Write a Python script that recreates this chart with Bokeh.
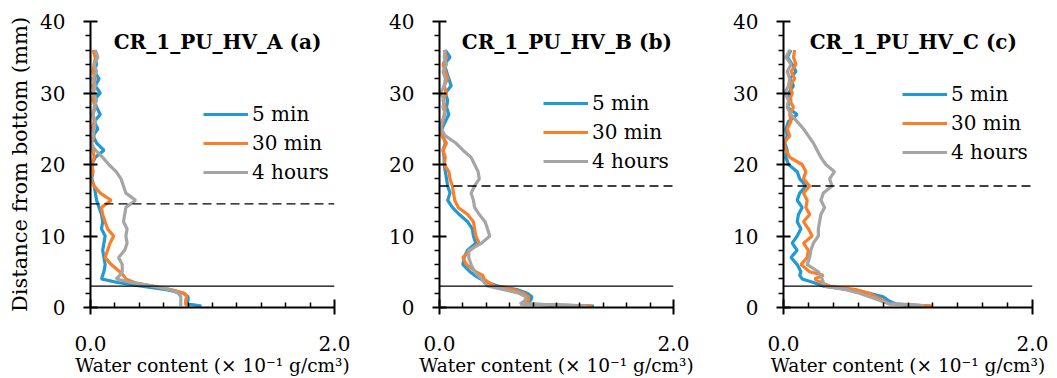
from bokeh.plotting import figure
from bokeh.layouts import row
from bokeh.models import Range1d, FixedTicker, Legend, LegendItem, Label, Span, ColumnDataSource
from bokeh.embed import file_html
from bokeh.resources import INLINE

# Distance from bottom (mm) at which water content was read
depth = [36, 35, 34, 33, 32, 31, 30, 29, 28, 27, 26, 25, 24, 23, 22, 21, 20, 19, 18, 17,
         16, 15, 14, 13, 12, 11, 10, 9, 8, 7, 6, 5, 4.5, 4, 3.5, 3, 2.5, 2, 1.5, 1, 0.5, 0.2]

series_names = ["5 min", "30 min", "4 hours"]
titles = ["CR_1_PU_HV_A (a)", "CR_1_PU_HV_B (b)", "CR_1_PU_HV_C (c)"]
interface_levels = [14.5, 17.0, 17.0]   # dashed lines
base_level = [3.0, 3.0, 3.0]            # solid lines

# Panel A
a_5min = [0.03, 0.04, 0.05, 0.03, 0.07, 0.04, 0.08, 0.03, 0.05, 0.08, 0.03, 0.06, 0.02, 0.05, 0.11, 0.04,
          0.01, 0.02, 0.01, 0.03, 0.04, 0.05, 0.07, 0.09, 0.10, 0.09, 0.12, 0.11, 0.10, 0.11, 0.12, 0.11,
          0.10, 0.09, 0.22, 0.42, 0.62, 0.76, 0.80, 0.80, 0.79, 0.91]
a_30min = [0.02, 0.04, 0.03, 0.02, 0.04, 0.02, 0.03, 0.02, 0.04, 0.02, 0.03, 0.01, 0.03, 0.01, 0.02, 0.03,
           0.01, 0.02, 0.00, 0.03, 0.08, 0.17, 0.09, 0.10, 0.12, 0.14, 0.19, 0.16, 0.14, 0.12, 0.17, 0.24,
           0.27, 0.29, 0.36, 0.50, 0.66, 0.77, 0.79, 0.78, 0.78, 0.79]
a_4h = [0.04, 0.06, 0.03, 0.05, 0.02, 0.04, 0.02, 0.05, 0.03, 0.02, 0.04, 0.03, 0.02, 0.00, 0.04, 0.10,
        0.15, 0.21, 0.25, 0.27, 0.29, 0.37, 0.29, 0.28, 0.27, 0.30, 0.29, 0.30, 0.28, 0.23, 0.26, 0.26,
        0.24, 0.21, 0.33, 0.52, 0.65, 0.72, 0.74, 0.74, 0.74, 0.74]

# Panel B
b_5min = [0.05, 0.09, 0.04, 0.06, 0.08, 0.10, 0.05, 0.07, 0.06, 0.08, 0.05, 0.02, 0.03, 0.05, 0.03, 0.04,
          0.04, 0.05, 0.06, 0.07, 0.09, 0.07, 0.11, 0.17, 0.24, 0.28, 0.29, 0.31, 0.24, 0.21, 0.20, 0.26,
          0.30, 0.35, 0.41, 0.50, 0.66, 0.75, 0.79, 0.78, 0.71, 1.32]
b_30min = [0.04, 0.06, 0.03, 0.05, 0.07, 0.04, 0.06, 0.03, 0.05, 0.04, 0.03, 0.01, 0.02, 0.06, 0.03, 0.05,
           0.04, 0.08, 0.09, 0.11, 0.12, 0.13, 0.16, 0.24, 0.29, 0.30, 0.31, 0.34, 0.26, 0.20, 0.23, 0.31,
           0.37, 0.38, 0.42, 0.47, 0.63, 0.72, 0.76, 0.76, 0.69, 1.30]
b_4h = [0.05, 0.04, 0.06, 0.03, 0.05, 0.04, 0.01, 0.04, 0.03, 0.05, 0.02, 0.01, 0.05, 0.14, 0.20, 0.27,
        0.30, 0.33, 0.34, 0.30, 0.27, 0.29, 0.30, 0.34, 0.39, 0.41, 0.43, 0.36, 0.25, 0.25, 0.27, 0.30,
        0.33, 0.36, 0.38, 0.41, 0.55, 0.68, 0.74, 0.73, 0.69, 1.26]

# Panel C
c_5min = [0.06, 0.03, 0.07, 0.10, 0.05, 0.08, 0.04, 0.06, 0.03, 0.11, 0.04, 0.02, 0.03, 0.01, 0.03, 0.02,
          0.04, 0.11, 0.13, 0.18, 0.13, 0.11, 0.15, 0.12, 0.11, 0.14, 0.11, 0.07, 0.11, 0.06, 0.11, 0.14,
          0.13, 0.15, 0.24, 0.32, 0.53, 0.69, 0.80, 0.84, 0.90, 1.18]
c_30min = [0.09, 0.08, 0.10, 0.06, 0.09, 0.05, 0.07, 0.05, 0.08, 0.05, 0.06, 0.03, 0.05, 0.00, 0.02, 0.05,
           0.15, 0.18, 0.16, 0.21, 0.16, 0.19, 0.18, 0.21, 0.16, 0.20, 0.23, 0.16, 0.20, 0.19, 0.14, 0.21,
           0.32, 0.25, 0.30, 0.37, 0.58, 0.69, 0.74, 0.80, 0.85, 1.20]
c_4h = [0.05, 0.02, 0.06, 0.03, 0.05, 0.04, 0.01, 0.04, 0.03, 0.06, 0.11, 0.16, 0.20, 0.24, 0.27, 0.30,
        0.34, 0.41, 0.37, 0.39, 0.32, 0.30, 0.33, 0.30, 0.29, 0.28, 0.28, 0.24, 0.22, 0.21, 0.19, 0.28,
        0.30, 0.31, 0.32, 0.33, 0.50, 0.61, 0.69, 0.77, 0.85, 1.13]

x_ticks_major = [0.0, 2.0]
x_ticks_minor = [0.2, 0.4, 0.6, 0.8, 1.0, 1.2, 1.4, 1.6, 1.8]
y_ticks_major = [0, 10, 20, 30, 40]
y_ticks_minor = [2, 4, 6, 8, 12, 14, 16, 18, 22, 24, 26, 28, 32, 34, 36, 38]

colors = ["#1f9ad6", "#fd7e28", "#a5a5a5"]
FONT = "DejaVu Serif"

panels = [
    dict(data=[a_5min, a_30min, a_4h], width=356, left=90, right=22, ylabel=True,
         legend_loc=(113, 123), title_x=0.19, title_y=37.1),
    dict(data=[b_5min, b_30min, b_4h], width=338, left=83, right=21, ylabel=False,
         legend_loc=(104, 134), title_x=0.19, title_y=37.1),
    dict(data=[c_5min, c_30min, c_4h], width=363, left=89, right=25, ylabel=False,
         legend_loc=(119, 143), title_x=0.21, title_y=37.2),
]

figs = []
for i, pn in enumerate(panels):
    p = figure(width=pn["width"], height=378, output_backend="svg", toolbar_location=None,
               x_range=Range1d(0, 2.0), y_range=Range1d(0, 40),
               min_border_left=pn["left"], min_border_right=pn["right"],
               min_border_top=21, min_border_bottom=71)
    p.outline_line_color = None
    p.grid.visible = False
    p.background_fill_color = "white"
    p.border_fill_color = "white"

    items = []
    for name, vals, col in zip(series_names, pn["data"], colors):
        src = ColumnDataSource(dict(x=vals, y=depth))
        r = p.line("x", "y", source=src, line_color=col, line_width=3.2)
        items.append(LegendItem(label=name, renderers=[r]))

    p.add_layout(Span(location=base_level[i], dimension="width", line_color="black", line_width=1.3))
    p.add_layout(Span(location=interface_levels[i], dimension="width", line_color="black",
                      line_width=1.4, line_dash="9 5"))

    # axes
    xa = p.xaxis[0]
    xa.ticker = FixedTicker(ticks=x_ticks_major, minor_ticks=x_ticks_minor)
    xa.major_label_overrides = {0: "0.0", 2: "2.0"}
    xa.axis_line_width = 2
    xa.major_tick_line_width = 2
    xa.minor_tick_line_width = 1.5
    xa.major_tick_in = 8
    xa.major_tick_out = 7
    xa.minor_tick_in = 5
    xa.minor_tick_out = 0
    xa.major_label_standoff = 21
    xa.major_label_text_font = FONT
    xa.major_label_text_font_size = "20px"
    xa.major_label_text_color = "black"
    xa.axis_label = "Water content (× 10⁻¹ g/cm³)"
    xa.axis_label_text_font = FONT
    xa.axis_label_text_font_size = "18.5px"
    xa.axis_label_text_font_style = "normal"
    xa.axis_label_standoff = 1
    xa.axis_label_text_color = "black"

    ya = p.yaxis[0]
    ya.ticker = FixedTicker(ticks=y_ticks_major, minor_ticks=y_ticks_minor)
    ya.axis_line_width = 2
    ya.major_tick_line_width = 2
    ya.minor_tick_line_width = 1.5
    ya.major_tick_in = 7
    ya.major_tick_out = 7
    ya.minor_tick_in = 0
    ya.minor_tick_out = 5
    ya.major_label_standoff = 18
    ya.major_label_text_font = FONT
    ya.major_label_text_font_size = "20px"
    ya.major_label_text_color = "black"
    if pn["ylabel"]:
        ya.axis_label = "Distance from bottom (mm)"
        ya.axis_label_text_font = FONT
        ya.axis_label_text_font_size = "21px"
        ya.axis_label_text_font_style = "normal"
        ya.axis_label_standoff = 5
        ya.axis_label_text_color = "black"

    p.add_layout(Label(x=pn["title_x"], y=pn["title_y"], text=titles[i], text_font=FONT,
                       text_font_size="20px", text_font_style="bold", text_baseline="middle",
                       text_color="black"))

    leg = Legend(items=items, location=pn["legend_loc"], orientation="vertical",
                 glyph_width=45, glyph_height=20, label_height=20, label_standoff=4,
                 spacing=5, padding=0, margin=0, border_line_alpha=0,
                 background_fill_alpha=0, label_text_font=FONT, label_text_font_size="20px",
                 label_text_color="black")
    p.add_layout(leg)
    figs.append(p)

layout = row(*figs, spacing=0)
open("out.html", "w").write(file_html(layout, INLINE))
